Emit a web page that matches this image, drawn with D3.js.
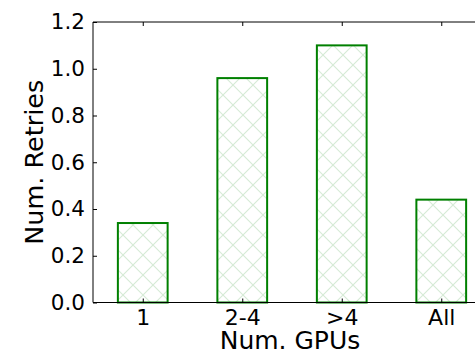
<!DOCTYPE html>
<html>
<head>
<meta charset="utf-8">
<script src="https://cdn.jsdelivr.net/npm/d3@7"></script>
<style>
  html, body { margin: 0; padding: 0; background: #fff; }
  svg { display: block; font-family: "DejaVu Sans", sans-serif; }
</style>
</head>
<body>
<svg id="chart" width="475" height="354"></svg>
<script>
const categories = ["1", "2-4", ">4", "All"];
const retries = [0.34, 0.96, 1.10, 0.44];
const yTicks = [0.0, 0.2, 0.4, 0.6, 0.8, 1.0, 1.2];
const xLabel = "Num. GPUs";
const yLabel = "Num. Retries";

(function () {
const svg = d3.select("#chart");
const pLeft = 93, pRight = 491, pTop = 22, pBottom = 302.5;

const x = d3.scaleLinear().domain([-0.5, categories.length - 0.5]).range([pLeft, pRight]);
const y = d3.scaleLinear().domain([0, 1.2]).range([pBottom, pTop]);
const barW = (x(1) - x(0)) * 0.5;

// hatch pattern
const s = 20;
const defs = svg.append("defs");
const pat = defs.append("pattern")
  .attr("id", "hatch").attr("patternUnits", "userSpaceOnUse")
  .attr("x", 0).attr("y", 0).attr("width", s).attr("height", s);
let d = "";
[-2, 18, 38].forEach(c => { d += `M${c + 40},${-40} L${c - 40},${40} `; });
[-12, 8, 28].forEach(c => { d += `M${c - 40},${-40} L${c + 40},${40} `; });
pat.append("path").attr("d", d).attr("stroke", "#008000").attr("stroke-opacity", 0.16)
  .attr("stroke-width", 1.1).attr("fill", "none");

// bars
svg.append("g").selectAll("rect").data(retries).join("rect")
  .attr("x", (v, i) => x(i) - barW / 2)
  .attr("y", v => y(v))
  .attr("width", barW)
  .attr("height", v => y(0) - y(v))
  .attr("fill", "url(#hatch)")
  .attr("stroke", "#008000")
  .attr("stroke-width", 2);

// axes frame
const frame = svg.append("g").attr("stroke", "#000").attr("stroke-width", 1).attr("fill", "none");
frame.append("line").attr("x1", pLeft).attr("x2", pLeft).attr("y1", pTop).attr("y2", pBottom);
frame.append("line").attr("x1", pLeft).attr("x2", pRight).attr("y1", pTop).attr("y2", pTop);
frame.append("line").attr("x1", pLeft).attr("x2", pRight).attr("y1", pBottom).attr("y2", pBottom);
frame.append("line").attr("x1", pRight).attr("x2", pRight).attr("y1", pTop).attr("y2", pBottom);

// y axis
const yAxis = d3.axisLeft(y).tickValues(yTicks).tickFormat(d3.format(".1f")).tickSizeInner(-4).tickSizeOuter(0).tickPadding(8);
const gy = svg.append("g").attr("transform", `translate(${pLeft},0)`).call(yAxis);
gy.select(".domain").remove();
gy.selectAll("text").attr("font-size", "21.5px").attr("font-family", "DejaVu Sans").attr("fill", "#000");
gy.selectAll("line").attr("stroke", "#000");
const yAxisR = d3.axisRight(y).tickValues(yTicks).tickFormat("").tickSizeInner(-4).tickSizeOuter(0);
const gyr = svg.append("g").attr("transform", `translate(${pRight},0)`).call(yAxisR);
gyr.select(".domain").remove();

// x axis
const xAxis = d3.axisBottom(x).tickValues(d3.range(categories.length)).tickFormat(i => categories[i]).tickSizeInner(-4).tickSizeOuter(0).tickPadding(7);
const gx = svg.append("g").attr("transform", `translate(0,${pBottom})`).call(xAxis);
gx.select(".domain").remove();
gx.selectAll("text").attr("font-size", "22px").attr("font-family", "DejaVu Sans").attr("fill", "#000");
gx.selectAll("line").attr("stroke", "#000");
const xAxisT = d3.axisTop(x).tickValues(d3.range(categories.length)).tickFormat("").tickSizeInner(-4).tickSizeOuter(0);
const gxt = svg.append("g").attr("transform", `translate(0,${pTop})`).call(xAxisT);
gxt.select(".domain").remove();

// labels
svg.append("text").attr("x", (pLeft + pRight) / 2 - 2).attr("y", 349)
  .attr("text-anchor", "middle").attr("font-size", "25px").attr("fill", "#000").text(xLabel);
svg.append("text").attr("transform", `translate(43,${(pTop + pBottom) / 2}) rotate(-90)`)
  .attr("text-anchor", "middle").attr("font-size", "25.5px").attr("fill", "#000").text(yLabel);
})();
</script>
</body>
</html>
